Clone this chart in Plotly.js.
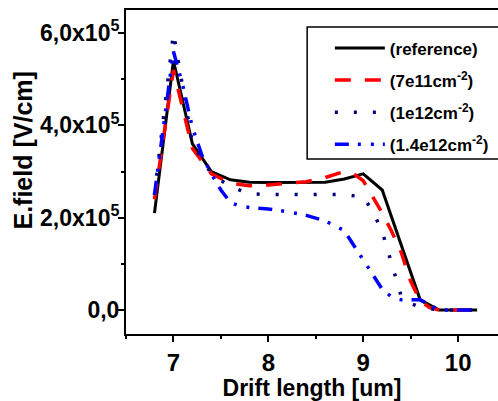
<!DOCTYPE html>
<html>
<head>
<meta charset="utf-8">
<script src="https://cdn.plot.ly/plotly-3.0.1.min.js"></script>
<style>html,body{margin:0;padding:0;background:#fff;}#chart{width:498px;height:401px;}</style>
</head>
<body>
<div id="chart"></div>
<script>
// Data (x in um, E-field in V/cm)
var refX = [6.8,7.0,7.2,7.4,7.6,7.8,8.0,8.2,8.4,8.6,8.8,9.0,9.2,9.4,9.6,9.8,10.0,10.2];
var refY = [2.1e5,5.4e5,3.6e5,3.0e5,2.82e5,2.77e5,2.76e5,2.76e5,2.76e5,2.77e5,2.84e5,2.95e5,2.6e5,1.4e5,0.22e5,0,0,0];

var d7X = [6.8,7.0,7.2,7.4,7.6,7.8,8.0,8.2,8.4,8.6,8.8,8.9,9.0,9.1,9.2,9.3,9.4,9.5,9.6,9.7,9.8,10.0,10.2];
var d7Y = [2.4e5,5.2e5,3.5e5,2.95e5,2.75e5,2.69e5,2.71e5,2.74e5,2.78e5,2.87e5,3.0e5,2.95e5,2.8e5,2.45e5,2.1e5,1.7e5,1.25e5,0.62e5,0.2e5,0.05e5,0,0,0];

var d1X = [6.8,7.0,7.2,7.4,7.6,7.8,8.0,8.2,8.4,8.6,8.8,9.0,9.1,9.2,9.3,9.4,9.5,9.6,9.7,9.8,10.0,10.2];
var d1Y = [2.5e5,6.0e5,3.6e5,2.95e5,2.67e5,2.52e5,2.5e5,2.5e5,2.5e5,2.5e5,2.5e5,2.45e5,2.14e5,1.7e5,1.0e5,0.3e5,0.14e5,0.06e5,0.03e5,0,0,0];

var d14X = [6.8,7.0,7.1,7.2,7.3,7.4,7.5,7.6,7.7,7.8,8.0,8.2,8.4,8.6,8.8,8.9,9.0,9.1,9.2,9.3,9.4,9.6,9.8,10.0,10.2];
var d14Y = [2.5e5,5.6e5,4.85e5,3.95e5,3.35e5,2.95e5,2.6e5,2.33e5,2.25e5,2.22e5,2.19e5,2.13e5,2.05e5,1.93e5,1.72e5,1.4e5,1.1e5,0.75e5,0.45e5,0.28e5,0.22e5,0.22e5,0,0,0];

var seriesNames = ['(reference)','(7e11cm<sup>-2</sup>)','(1e12cm<sup>-2</sup>)','(1.4e12cm<sup>-2</sup>)'];
var xTickVals = [7,8,9,10];
var xTickText = ['7','8','9','10'];
var yTickVals = [0,2e5,4e5,6e5];
var yTickText = ['0,0','2,0x10<sup>5</sup>','4,0x10<sup>5</sup>','6,0x10<sup>5</sup>'];
var xTitle = 'Drift length [um]';
var yTitle = 'E.field [V/cm]';

var FONT = '"Liberation Sans", Arial, sans-serif';

var traces = [
  {x: refX, y: refY, name: seriesNames[0], legendgroup: 'a', mode: 'lines', line: {color: '#000000', width: 3}},
  {x: d7X, y: d7Y, name: seriesNames[1], legendgroup: 'b', mode: 'lines', line: {color: '#ff0000', width: 3.5, dash: '16px,14px'}},
  {x: d1X, y: d1Y, name: seriesNames[2], legendgroup: 'c', mode: 'lines', line: {color: '#000080', width: 3.5, dash: '3px,16px'}},
  {x: d14X, y: d14Y, name: seriesNames[3], legendgroup: 'd', mode: 'lines', line: {color: '#0000ff', width: 3.5, dash: '14px,9px,3px,10px,3px,9px'}}
];

var layout = {
  width: 498, height: 401,
  margin: {l: 126, r: 0, t: 10, b: 67},
  paper_bgcolor: '#ffffff', plot_bgcolor: '#ffffff',
  font: {family: FONT, color: '#000000', weight: 'bold'},
  showlegend: true,
  legend: {
    x: 0.548, y: 0.937, xanchor: 'left', yanchor: 'top',
    bgcolor: 'rgba(0,0,0,0)', borderwidth: 0,
    font: {family: FONT, size: 17, color: '#000', weight: 'bold'},
    itemwidth: 50, tracegroupgap: 7
  },
  xaxis: {
    range: [6.5, 10.42],
    tickmode: 'array', tickvals: xTickVals, ticktext: xTickText,
    ticks: 'outside', ticklen: 6, tickwidth: 2, tickcolor: '#000',
    minor: {dtick: 0.5, tick0: 0, ticks: 'outside', ticklen: 3, tickwidth: 2, tickcolor: '#000'},
    showline: true, linewidth: 2, linecolor: '#000', mirror: true,
    showgrid: false, zeroline: false,
    tickfont: {family: FONT, size: 24, weight: 'bold'},
    title: {text: xTitle, font: {family: FONT, size: 23, weight: 'bold'}, standoff: 6}
  },
  yaxis: {
    range: [-52000, 650000],
    tickmode: 'array', tickvals: yTickVals, ticktext: yTickText,
    ticks: 'outside', ticklen: 6, tickwidth: 2, tickcolor: '#000',
    ticklabelstandoff: -6,
    minor: {dtick: 1e5, tick0: 0, ticks: 'outside', ticklen: 3, tickwidth: 2, tickcolor: '#000'},
    showline: true, linewidth: 2, linecolor: '#000', mirror: false,
    showgrid: false, zeroline: false,
    tickfont: {family: FONT, size: 23, weight: 'bold'}
  },
  annotations: [
    {text: yTitle, xref: 'paper', yref: 'paper', x: -0.278, y: 0.565, xanchor: 'center', yanchor: 'middle',
     textangle: -90, showarrow: false, font: {family: FONT, size: 25, weight: 'bold', color: '#000'}}
  ],
  shapes: [
    {type: 'rect', xref: 'paper', yref: 'paper', x0: 0.487, x1: 1.1, y0: 0.540, y1: 0.9475,
     line: {color: '#000', width: 1.5}, fillcolor: 'rgba(0,0,0,0)'}
  ]
};

Plotly.newPlot('chart', traces, layout, {displayModeBar: false});
</script>
</body>
</html>
